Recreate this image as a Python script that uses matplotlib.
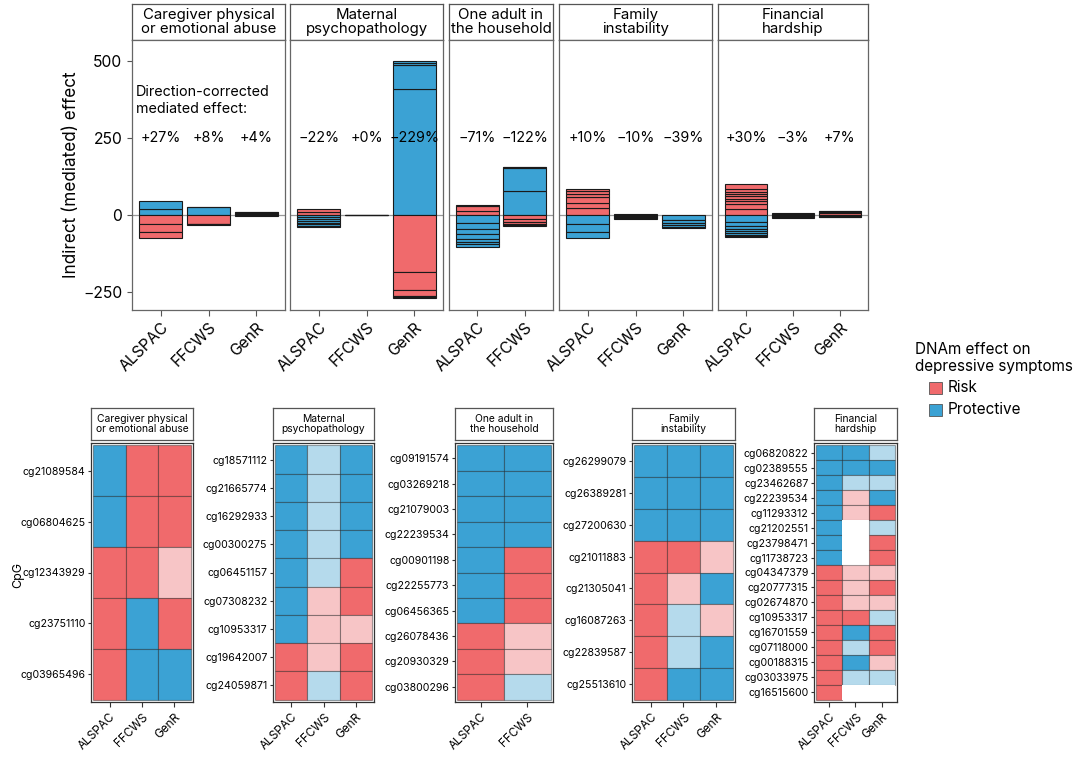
import matplotlib
matplotlib.use("Agg")
import matplotlib.pyplot as plt
from matplotlib.patches import Rectangle
import numpy as np

plt.rcParams['font.family'] = ['Inter', 'DejaVu Sans']

W, H = 1080, 761
RED = '#F06A6C'
BLUE = '#3BA2D4'
LRED = '#F7C5C6'
LBLUE = '#B5DAEC'
CMAP = {'R': RED, 'P': BLUE, 'r': LRED, 'p': LBLUE, 'N': '#FFFFFF'}

# ---------------- data ----------------
exposures = ["Caregiver physical\nor emotional abuse", "Maternal\npsychopathology",
             "One adult in\nthe household", "Family\ninstability", "Financial\nhardship"]
cohorts_top = [["ALSPAC", "FFCWS", "GenR"], ["ALSPAC", "FFCWS", "GenR"], ["ALSPAC", "FFCWS"],
               ["ALSPAC", "FFCWS", "GenR"], ["ALSPAC", "FFCWS", "GenR"]]
pct_labels = [["+27%", "+8%", "+4%"], ["\u221222%", "+0%", "\u2212229%"], ["\u221271%", "\u2212122%"],
              ["+10%", "\u221210%", "\u221239%"], ["+30%", "\u22123%", "+7%"]]

# segment values (one per CpG) and their DNAm effect type (R risk / P protective)
abuse_vals = [[20, 26, -30, -26, -20], [25, 2, -29, -2, -2], [4, 3, 2, 1, -4]]
abuse_types = ["PPRRR", "PPRRR", "RRRRP"]
maternal_vals = [[9, 9, -7, -6, -6, -6, -6, -5, -5], [0.4, -0.4, -0.4, -0.4],
                 [411, 79, 4, 6, -186, -60, -19, -4, -1]]
maternal_types = ["RRPPPPPPP", "RPPP", "PPPPRRRRR"]
oneadult_vals = [[14, 16, 1.5, -27, -18, -17, -15, -10, -9, -9], [79, 74, 3, 1, -13, -9, -7, -5, -2]]
oneadult_types = ["RRRPPPPPPP", "PPPPRRRRR"]
family_vals = [[21, 19, 18, 10, 10, 7, -30, -26, -20], [3, -4, -3, -3, -3], [-17, -9, -8, -5, -3]]
family_types = ["RRRRRRPPP", "RPPPP", "PPPPP"]
financial_vals = [[19, 17, 8, 8, 8, 8, 8, 9, 16, -23, -12, -10, -8, -6, -5, -5, -4],
                  [2, 2, 1.5, -2, -2, -2, -2, -1.5], [5, 4, 3, 2, -3, -3, -2]]
financial_types = ["RRRRRRRRRPPPPPPPP", "RRPPPPRR", "RRPRPPR"]

bar_vals = [abuse_vals, maternal_vals, oneadult_vals, family_vals, financial_vals]
bar_types = [abuse_types, maternal_types, oneadult_types, family_types, financial_types]

# heatmaps (rows top to bottom); N = missing
abuse_cpg = ["cg21089584", "cg06804625", "cg12343929", "cg23751110", "cg03965496"]
abuse_hm = {"ALSPAC": "PPRRR", "FFCWS": "RRRPP", "GenR": "RRrRP"}
maternal_cpg = ["cg18571112", "cg21665774", "cg16292933", "cg00300275", "cg06451157",
                "cg07308232", "cg10953317", "cg19642007", "cg24059871"]
maternal_hm = {"ALSPAC": "PPPPPPPRR", "FFCWS": "ppppprrrp", "GenR": "PPPPRRrRR"}
oneadult_cpg = ["cg09191574", "cg03269218", "cg21079003", "cg22239534", "cg00901198",
                "cg22255773", "cg06456365", "cg26078436", "cg20930329", "cg03800296"]
oneadult_hm = {"ALSPAC": "PPPPPPPRRR", "FFCWS": "PPPPRRRrrp"}
family_cpg = ["cg26299079", "cg26389281", "cg27200630", "cg21011883", "cg21305041",
              "cg16087263", "cg22839587", "cg25513610"]
family_hm = {"ALSPAC": "PPPRRRRR", "FFCWS": "PPPRrppP", "GenR": "PPPrPrPP"}
financial_cpg = ["cg06820822", "cg02389555", "cg23462687", "cg22239534", "cg11293312",
                 "cg21202551", "cg23798471", "cg11738723", "cg04347379", "cg20777315",
                 "cg02674870", "cg10953317", "cg16701559", "cg07118000", "cg00188315",
                 "cg03033975", "cg16515600"]
financial_hm = {"ALSPAC": "PPPPPPPPRRRRRRRRR", "FFCWS": "PPprrNNNrrrRPpPpN",
                "GenR": "pPpPRpRRrRrpRRrpN"}

hm_cpgs = [abuse_cpg, maternal_cpg, oneadult_cpg, family_cpg, financial_cpg]
hm_data = [abuse_hm, maternal_hm, oneadult_hm, family_hm, financial_hm]

yticks_top = [-250, 0, 250, 500]
ytick_labels_top = ["\u2212250", "0", "250", "500"]

# ---------------- layout ----------------
fig = plt.figure(figsize=(W / 100, H / 100), dpi=100)


def add_ax(x0, y0, x1, y1):
    return fig.add_axes([x0 / W, 1 - y1 / H, (x1 - x0) / W, (y1 - y0) / H])


def strip(x0, x1, y0, y1, text, fs, ls):
    sa = add_ax(x0, y0, x1, y1)
    sa.set_xticks([]); sa.set_yticks([])
    for s in sa.spines.values():
        s.set_color('#555555'); s.set_linewidth(0.9)
    sa.text(0.5, 0.5, text, ha='center', va='center', fontsize=fs, linespacing=ls,
            transform=sa.transAxes)


top_x = [(132, 285), (290, 443), (449, 553), (559, 712), (718, 868)]
TOP_Y0, TOP_Y1 = 40, 310
for i, (x0, x1) in enumerate(top_x):
    strip(x0, x1, 4, TOP_Y0, exposures[i], 10.8, 1.08)
    ax = add_ax(x0, TOP_Y0, x1, TOP_Y1)
    n = len(cohorts_top[i])
    ax.set_xlim(-0.6, n - 1 + 0.6)
    ax.set_ylim(-310, 570)
    ax.axhline(0, color='#999999', lw=0.9, zorder=0)
    for j in range(n):
        pos, neg = 0.0, 0.0
        for v, t in zip(bar_vals[i][j], bar_types[i][j]):
            if v >= 0:
                b = pos; pos += v
            else:
                b = neg; neg += v
            ax.bar(j, v, bottom=b, width=0.9, color=CMAP[t], edgecolor='#1a1a1a',
                   linewidth=0.8, zorder=2)
        ax.text(j, 250, pct_labels[i][j], ha='center', va='center', fontsize=10.3, zorder=3)
    ax.set_xticks(range(n))
    ax.set_xticklabels(cohorts_top[i], rotation=45, ha='right', rotation_mode='anchor',
                       fontsize=11.3)
    ax.set_yticks(yticks_top)
    if i == 0:
        ax.set_yticklabels(ytick_labels_top, fontsize=11.3)
        ax.set_ylabel("Indirect (mediated) effect", fontsize=12.3, labelpad=2)
        ax.text(0.025, 372, "Direction-corrected\nmediated effect:", ha='left', va='center',
                fontsize=10.3, linespacing=1.25, transform=ax.get_yaxis_transform())
    else:
        ax.tick_params(axis='y', length=0, labelleft=False)
    ax.tick_params(axis='x', length=4, color='#555555', pad=3)
    ax.tick_params(axis='y', color='#555555')
    for s in ax.spines.values():
        s.set_color('#666666'); s.set_linewidth(0.9)

# heatmaps
hm_x = [(91, 193), (273, 374), (455, 553), (632, 735), (814, 897)]
HM_Y0, HM_Y1 = 443, 702
for i, (x0, x1) in enumerate(hm_x):
    strip(x0, x1, 408, 440, exposures[i], 7.4, 1.1)
    ax = add_ax(x0, HM_Y0, x1, HM_Y1)
    cohorts = list(hm_data[i].keys())
    cpgs = hm_cpgs[i]
    nc, nr = len(cohorts), len(cpgs)
    for j, c in enumerate(cohorts):
        for r, code in enumerate(hm_data[i][c]):
            ec = (0, 0, 0, 0.35) if code != 'N' else 'none'
            ax.add_patch(Rectangle((j - 0.5, r - 0.5), 1, 1, facecolor=CMAP[code],
                                   edgecolor=ec, linewidth=0.8))
    padx = 2.5 / (x1 - x0) * nc
    pady = 2.5 / (HM_Y1 - HM_Y0) * nr
    ax.set_xlim(-0.5 - padx, nc - 0.5 + padx)
    ax.set_ylim(nr - 0.5 + pady, -0.5 - pady)
    ax.set_xticks(range(nc))
    ax.set_xticklabels(cohorts, rotation=45, ha='right', rotation_mode='anchor', fontsize=8.5)
    ax.set_yticks(range(nr))
    ax.set_yticklabels(cpgs, fontsize=7.6)
    ax.tick_params(axis='x', length=3.5, color='#333333', pad=3)
    ax.tick_params(axis='y', length=2, color='#333333', pad=2)
    for s in ax.spines.values():
        s.set_color('#333333'); s.set_linewidth(0.9)

fig.text(18 / W, 1 - 575 / H, "CpG", rotation=90, ha='center', va='center', fontsize=9)

# legend
fig.text(915 / W, 1 - 358 / H, "DNAm effect on\ndepressive symptoms", ha='left', va='center',
         fontsize=11, linespacing=1.2)
for k, (lab, col) in enumerate([("Risk", RED), ("Protective", BLUE)]):
    yc = 388 + k * 22
    fig.patches.append(Rectangle((929 / W, 1 - (yc + 6) / H), 13 / W, 12 / H, facecolor=col,
                                 edgecolor='#555555', linewidth=0.6,
                                 transform=fig.transFigure, figure=fig))
    fig.text(948 / W, 1 - yc / H, lab, ha='left', va='center', fontsize=11)

fig.savefig("out.png", dpi=100)
